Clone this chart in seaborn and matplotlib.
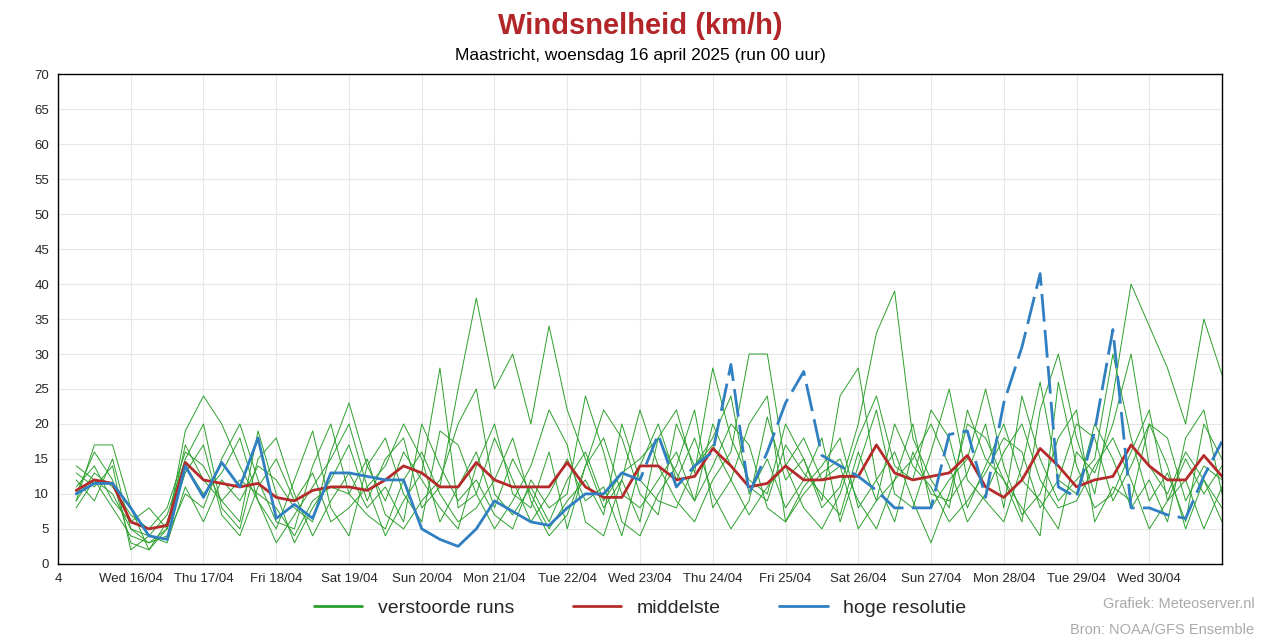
import matplotlib
matplotlib.use("Agg")
import matplotlib.pyplot as plt
import seaborn as sns
import numpy as np
import pandas as pd

sns.set_theme(style="white")
plt.rcParams["font.family"] = "Liberation Sans"

# values every 6 hours, starting 6h after axis start
mean_run = [10.5,12,11.5,6,5,5.5,14.5,12,11.5,11, 11.5,9.5,9,10.5,11,11,10.5,12,14,13,
            11,11,14.5,12,11,11,11,14.5,11,9.5, 9.5,14,14,12,12.5,16.5,14,11,11.5,14,
            12,12,12.5,12.5,17,13,12,12.5,13,15.5, 11,9.5,12,16.5,14,11,12,12.5,17,14,
            12,12,15.5,12.5]
hires = [10,11.5,11.5,8,4,3.5,14,9.5,14.5,11,18,6.5, 8.5,6.5,13,13,12.5,12,12,5,3.5,2.5,
         5,9,7.5,6,5.5,8,10,10,13,12, 18.5,11,14,16,28.5, 10,16,23,27.5,15.5,14,12.5,
         10.5,8,8,8,18.5,19,9.5,23,31,41.5, 11,9.5,19,33.5,8,8,7,6.5,12.5,17.5]
members = [
    [9,17,17,8,2,5,17,12,9,6,19,10, 3,8,12,17,9,15,18,8,11,25,38,25, 30,20,34,22,15,8,12,6,
     18,22,13,28,18,12,10,20, 15,8,11,20,33,39,18,12, 8,22,15,12,6,22,30,18, 10,24,40,34,28,20,35,27],
    [13,11,14,2,4,7,15,20,8,5,15,18, 10,4,9,13,8,11,6,20,14,9,12,7, 5,12,8,10,24,16,6,4,
     10,14,22,8,12,20,24,6, 10,13,15,9,5,12,20,8, 12,15,25,14,7,10,18,22, 6,11,9,20,14,5,12,8],
    [8,12,10,5,3,4,10,8,15,20,12,6, 5,14,20,10,7,5,12,16,10,6,8,12, 18,9,4,7,14,22,18,10,
     7,20,14,18,24,10,15,8, 12,18,6,14,22,10,8,16, 25,12,9,6,14,26,12,10, 20,15,8,12,6,18,22,10],
    [11,14,9,6,8,5,19,24,20,14,9,5, 12,19,8,4,14,18,10,6,19,17,10,5, 9,14,22,17,6,4,12,22,
     14,9,6,12,16,30,30,14, 8,5,10,18,24,14,12,22, 18,8,14,20,12,9,5,16, 13,20,30,14,10,16,12,6],
    [10,16,12,3,2,6,14,10,13,18,9,3, 7,11,15,20,11,4,9,13,28,8,10,18, 12,6,10,15,9,11,4,14,
     20,12,18,10,5,9,21,12, 15,9,24,28,12,6,16,10, 9,13,20,8,24,15,9,12, 15,30,18,9,13,6,20,15],
    [12,9,15,5,4,3,11,6,12,9,14,12, 8,6,16,23,14,9,16,12,8,5,14,20, 10,8,16,5,14,18,10,8,
     12,16,9,14,20,17,8,6, 11,14,18,8,12,16,9,3, 10,20,18,12,8,4,26,14, 8,10,16,22,9,12,5,11],
    [9,13,11,7,5,8,16,14,9,12,10,8, 4,9,11,10,15,7,5,9,12,20,25,10, 7,11,6,12,16,9,13,15,
     18,13,9,20,14,11,9,17, 13,10,7,16,9,12,15,20, 14,6,10,16,20,12,8,9, 14,18,12,5,9,15,10,14],
    [14,12,8,4,3,5,13,17,7,4,11,15, 9,13,6,8,11,14,20,15,6,11,16,8, 15,10,5,9,12,7,20,12,
     9,8,14,17,12,7,11,14, 18,12,14,5,9,20,14,11, 6,9,13,18,16,8,12,20, 18,9,14,20,18,9,14,12],
]
day_labels = ["4", "Wed 16/04", "Thu 17/04", "Fri 18/04", "Sat 19/04", "Sun 20/04", "Mon 21/04",
              "Tue 22/04", "Wed 23/04", "Thu 24/04", "Fri 25/04", "Sat 26/04", "Sun 27/04",
              "Mon 28/04", "Tue 29/04", "Wed 30/04"]

green = "#2ca02c"
red = "#b52a2a"
blue = "#2f7fc1"

fig = plt.figure(figsize=(12.8, 6.4), dpi=100)
ax = fig.add_axes([0.0453, 0.119, 0.9094, 0.765])

def hours(n):
    return 6 + 6 * np.arange(n)

for m in members:
    sns.lineplot(x=hours(len(m)), y=m, ax=ax, color=green, lw=0.7)
sns.lineplot(x=hours(len(mean_run)), y=mean_run, ax=ax, color=red, lw=2)
hx = hours(len(hires))
split = 30
ax.plot(hx[:split + 1], hires[:split + 1], color=blue, lw=2)
ax.plot(hx[split:], hires[split:], color=blue, lw=2, dashes=(10, 3))

ax.set_xlim(0, 384)
ax.set_ylim(0, 70)
ax.set_yticks(range(0, 71, 5))
ax.set_xticks(np.arange(len(day_labels)) * 24)
ax.set_xticklabels(day_labels)
ax.tick_params(labelsize=9.5, length=3, color="black")
ax.grid(True, color="#e6e6e6", lw=0.8)
for s in ax.spines.values():
    s.set_color("black")
    s.set_linewidth(1)

fig.text(0.5, 0.96, "Windsnelheid (km/h)", ha="center", va="center",
         fontsize=21, fontweight="bold", color="#b2262a")
fig.text(0.5, 0.914, "Maastricht, woensdag 16 april 2025 (run 00 uur)", ha="center",
         va="center", fontsize=12.5, color="black")

handles = [plt.Line2D([], [], color=green, lw=2),
           plt.Line2D([], [], color=red, lw=2),
           plt.Line2D([], [], color=blue, lw=2)]
fig.legend(handles, ["verstoorde runs", "middelste", "hoge resolutie"], loc="center",
           bbox_to_anchor=(0.5, 0.05), ncol=3, frameon=False, fontsize=14,
           handlelength=2.5, columnspacing=3)
fig.text(0.98, 0.05, "Grafiek: Meteoserver.nl", ha="right", fontsize=10.5, color="#aaaaaa")
fig.text(0.98, 0.01, "Bron: NOAA/GFS Ensemble", ha="right", fontsize=10.5, color="#aaaaaa")

fig.savefig("out.png", dpi=100)
